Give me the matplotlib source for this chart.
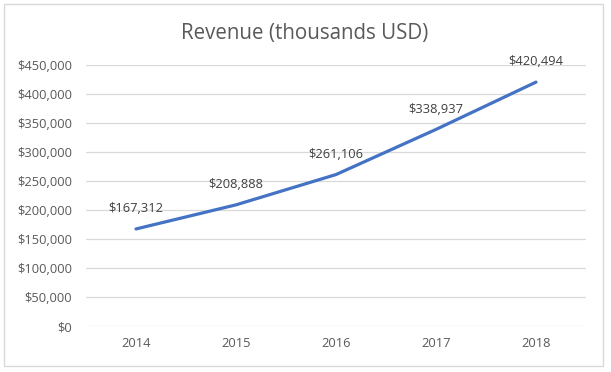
import matplotlib.pyplot as plt
from matplotlib.patches import Rectangle
from matplotlib.ticker import FuncFormatter

years = ["2014", "2015", "2016", "2017", "2018"]
revenue = [167312, 208888, 261106, 338937, 420494]

plt.rcParams["font.family"] = ["Open Sans", "DejaVu Sans"]
TXT = "#595959"

fig = plt.figure(figsize=(6.11, 3.72), dpi=100)
ax = fig.add_axes([86 / 611, 1 - 326 / 372, 500 / 611, 261 / 372])

x = range(len(years))
ax.plot(x, revenue, color="#4472C4", linewidth=2.3, solid_capstyle="round")
for xi, v in zip(x, revenue):
    ax.annotate(f"${v:,.0f}", (xi, v), xytext=(0, 10), textcoords="offset points",
                ha="center", va="bottom", fontsize=9.3, color="#404040")

ax.set_xlim(-0.5, len(years) - 0.5)
ax.set_ylim(0, 450000)
ax.set_yticks(range(0, 450001, 50000))
ax.yaxis.set_major_formatter(FuncFormatter(lambda v, p: f"${v:,.0f}"))
ax.set_xticks(list(x))
ax.set_xticklabels(years)
ax.grid(axis="y", color="#D9D9D9", linewidth=0.9)
ax.set_axisbelow(True)
for s in ax.spines.values():
    s.set_visible(False)
ax.tick_params(length=0, labelsize=9.3, labelcolor=TXT)
ax.tick_params(axis="y", pad=10)
ax.tick_params(axis="x", pad=8)

fig.text(305 / 611, 1 - 33 / 372, "Revenue (thousands USD)", ha="center", va="center",
         fontsize=14.8, color=TXT)
fig.patches.append(Rectangle((4 / 611, 1 - 366 / 372), 599 / 611, 362 / 372,
                             transform=fig.transFigure, fill=False,
                             edgecolor="#D9D9D9", linewidth=1))

fig.savefig("out.png", dpi=100)
